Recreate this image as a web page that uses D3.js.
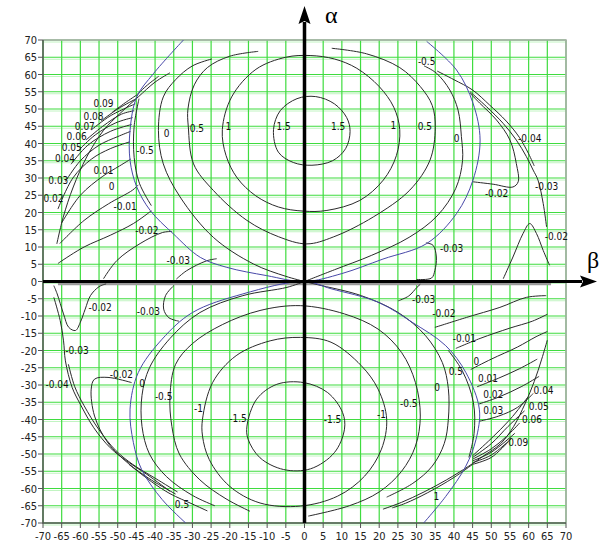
<!DOCTYPE html>
<html lang="en">
<head>
<meta charset="UTF-8">
<title>Contour map alpha / beta</title>
<script src="https://d3js.org/d3.v7.min.js"></script>
<style>
  body { margin: 0; background: white; }
  .tick-label { font-family: "Liberation Sans Narrow", "DejaVu Sans Condensed", "Liberation Sans", sans-serif; font-size: 11px; fill: #222; }
  .lvl { font-family: "Liberation Sans Narrow", "DejaVu Sans Condensed", "Liberation Sans", sans-serif; font-size: 10px; fill: #111; }
  .axis-sym { font-family: "Liberation Serif", "DejaVu Serif", serif; font-size: 24px; fill: #000; }
</style>
</head>
<body>
<svg width="601" height="544"></svg>
<script>
// tick labels (both axes)
const ticks = [-70, -65, -60, -55, -50, -45, -40, -35, -30, -25, -20, -15, -10, -5, 0,
  5, 10, 15, 20, 25, 30, 35, 40, 45, 50, 55, 60, 65, 70];

// contour lines, points are [beta, alpha]
// upper lobe
const top15 = [[-8.3,44],[-6.5,49.5],[-2,53],[3,53.6],[8,51.5],[11.3,47.5],[12.2,43.5],[11,38.5],[7.5,35],[2,33.7],[-3,34.5],[-7,37.5]];
const top1 = [[-22,44],[-19.5,53.5],[-13,61.5],[-5,65],[1.5,65.5],[8,64.5],[14,61.8],[20,56.5],[23.9,50.5],[25.5,44],[24.6,36.5],[21.1,29.4],[14.8,23.5],[6,20.6],[-0.3,20.4],[-7,21.6],[-13,24.8],[-18,30],[-21,36.5]];
const top05 = [[-12.4,66.7],[-20,65.3],[-26,62],[-29.5,57],[-31.2,50],[-31.1,44.8],[-29.7,34.1],[-24.4,26.4],[-15.4,17.7],[-7,13],[0.6,10.9],[7.7,12.9],[18.4,18.7],[28.2,26.5],[33.6,35.2],[35,44.5],[34.2,51],[31,56.5],[25.5,62],[16.6,66],[7.3,67.6]];
const top0Left = [[-24.8,64.5],[-30,62.5],[-34.5,58.5],[-37.8,53.5],[-39.1,43.8],[-37.8,34.1],[-33.3,24.5],[-24.4,12.8],[-13.7,5.1],[-5,1.5],[0,0]];
const top0Right = [[0,0],[8,3.4],[18,7.6],[28,12.8],[35.5,19],[40.5,27],[42.3,35],[42,42],[41.1,49.7],[38.9,55.5],[35.3,60.4],[32,62.5]];
const topHug = [[-44.3,53],[-45.6,45],[-45.6,36],[-44.2,28.5],[-41,22]];
const topLeftEdge = [[-66.3,10.9],[-64.6,18.6],[-61.9,27.4],[-58.3,36.1],[-53.8,43.8],[-49.4,48.7],[-44.5,53.5],[-40,57.8],[-36,60.5]];
const fanTL = [
  [[-34.3,0.7],[-31.6,3.1],[-26.2,6],[-23.5,6.6]],
  [[-53.8,0.8],[-50.2,6.1],[-44,11],[-38,14.2],[-35.5,14.5]],
  [[-66,5.2],[-65.5,5.6],[-59,10],[-52,13.4],[-45.8,16.8],[-41,20.5]],
  [[-65.5,11],[-59,17.7],[-52.5,22.5],[-46,26.5],[-44.5,28]],
  [[-65,17],[-60,25],[-54,30.5],[-49.5,33.5],[-46.5,35.5]],
  [[-66,21],[-62,30],[-57,35.5],[-52,38.5],[-46.7,40.5]],
  [[-64,29],[-60,35],[-55,39.5],[-50,42],[-46.6,43.5]],
  [[-62.5,34],[-58,39.5],[-52,43.5],[-46.3,45.5]],
  [[-60.5,38],[-56,42.5],[-50.5,46],[-46,47.5]],
  [[-58.5,41],[-54,45],[-49,48.5],[-45.6,49.5]],
  [[-57,44],[-52,48],[-45.3,51.5]],
  [[-54.5,46.5],[-50,50],[-45,53]],
  [[-51.5,49],[-48,51.8],[-45,54]]
];
const trLoop02 = [[45.1,28.9],[50.5,28.2],[55.8,27.4],[57.2,28.9],[56.7,34.2],[55,41],[51.4,46.8],[46.9,51.7],[44.3,54.6]];
const trLine03 = [[44.3,55],[48.7,50.7],[53.2,45.8],[56.7,41],[59.4,36.2],[61.2,32.3],[62.5,29.4],[63.9,22.6],[64.8,15.8]];
const trLine04 = [[35.5,61],[40,58.5],[45,55.5],[49.5,51.2],[54,46.5],[57.5,41.8],[60,37],[61.5,33.5]];
const trPeak02 = [[53.2,0.8],[55.8,7.1],[58.5,13.9],[60.3,16.8],[62.1,13.9],[63.9,9],[65.6,4.7]];
const trHook03 = [[32.5,11.2],[34.4,10.5],[35.3,7.1],[34.9,3.2],[34,1],[30,0.6]];

// lower lobe
const bot15 = [[-15.4,-41.9],[-12.8,-34.1],[-7.4,-29.8],[-0.2,-29.3],[6.2,-32.2],[10.2,-38],[10.7,-42.8],[8,-49.6],[1.6,-54.3],[-5.6,-54.5],[-11.9,-51.1],[-15.1,-45.7]];
const bot1 = [[-27.3,-39.9],[-24.6,-29.3],[-18.3,-21.5],[-9.2,-17.2],[-1.1,-16.2],[7.1,-17.6],[15.2,-24.4],[19.7,-31.2],[22,-39.9],[20.6,-48.6],[16.1,-56.4],[8.9,-62.2],[-1.1,-65.1],[-11.9,-64.2],[-20.1,-59.3],[-25.5,-51.6],[-27.3,-44.8]];
const bot05 = [[-14.6,-66.6],[-21,-63],[-28,-57.5],[-33.5,-50],[-35.5,-42],[-36,-33],[-34.5,-24],[-30,-18],[-22,-12.5],[-11.9,-8.4],[-1.1,-7],[10.7,-9.4],[19.7,-13.8],[26,-20.6],[29.7,-29.3],[31,-39],[29.7,-47.7],[26,-55],[20,-61],[12,-65],[1,-68]];
const bot0Left = [[0,0],[-4.7,-1.7],[-16.5,-4.1],[-28,-9],[-36,-16.5],[-41.5,-25],[-43.5,-33],[-43.5,-42],[-41.5,-50],[-37,-56.5],[-30,-62],[-24,-65]];
const bot0Right = [[0,0],[3.4,-0.9],[15.2,-4.1],[25.1,-9],[32.4,-15.7],[36.9,-23.5],[38.5,-31],[38.5,-40],[37.4,-47],[34.2,-53.5],[29,-58.5],[22,-62.5]];
const botHug = [[38.5,-20],[42.3,-26],[45.2,-35],[45.4,-44],[44,-51]];
const botRightEdge = [[65,-17],[63.5,-22.5],[61.5,-29],[59,-35.5],[56,-42],[52.5,-47],[48,-50.5],[44,-53.5],[38,-57.5],[32,-61],[26,-64],[21,-66]];
const botRightExtra = [[45,-53],[40,-56.8],[33,-61.2],[27,-64.3],[23.5,-65.6]];
const fanBR = [
  [[25.1,-5.6],[27.9,-4.2],[30.1,-1.7],[31,-0.8]],
  [[34.9,-13.3],[43.4,-10.4],[52.3,-7.5],[59.4,-4.6],[64.7,-4.1]],
  [[40.5,-19.4],[47,-16.5],[55,-13.5],[61,-11.5],[65,-9.5]],
  [[44.5,-25.5],[50,-22.5],[57,-19],[62,-16],[65,-14.5]],
  [[46.2,-30.5],[52,-28],[57.5,-25.3],[62.3,-22.5]],
  [[46.7,-35.5],[52,-33.5],[58,-30.5],[62.8,-27.5]],
  [[46.8,-40.5],[52,-39],[57,-36.5],[61.2,-32.5]],
  [[45,-50.5],[50,-45.5],[55,-40],[59.8,-33.5]],
  [[45,-51],[50,-47],[54.5,-42],[58.9,-37.5]],
  [[45,-51.5],[50,-48.5],[54,-45],[57.6,-41]],
  [[45,-52],[50,-49.5],[56.3,-44]],
  [[45,-52.5],[50,-50.3],[55.4,-45.5]],
  [[45,-53],[50,-51],[54.5,-46.5]]
];
const blLine03 = [[-67.1,-4.6],[-65.4,-11.3],[-64.5,-17.2],[-64,-23],[-62.2,-30.7],[-60,-35.6],[-56.4,-42.4],[-52,-48.2],[-47.5,-52.1],[-42.2,-55.9],[-36,-60.8]];
const blLine04 = [[-63.2,-24],[-61.5,-30.5],[-59,-36],[-55,-43],[-50.5,-49],[-46,-53],[-40,-57],[-34,-61]];
const blLoop02 = [[-46.3,-29.3],[-52.6,-27.8],[-56.2,-28.3],[-57.1,-31.2],[-56.2,-39],[-52.6,-46.8],[-47.2,-52.7],[-40.9,-57.6],[-34.5,-61.6]];
const blDip02 = [[-53.1,-0.7],[-55,-1.5],[-57.3,-4.1],[-58.7,-8],[-60,-11.8],[-61.3,-14.2],[-63.1,-13.3],[-64.5,-9.4],[-66.2,-3.6],[-67.1,-1.2]];
const blHook03 = [[-33.6,-11.5],[-36.3,-10.5],[-37.7,-8],[-37.2,-4.1],[-35,-1.2]];
const blLine05 = [[-47,-53],[-41,-58],[-36,-61.5],[-30,-64.5],[-26,-66.5]];
const tlExtra = [[-45,54],[-42,57],[-39,59.5]];

// blue boundary curves
const blueTop = [[-32.4,70],[-40.4,60.3],[-44.9,53.5],[-46.7,43.8],[-46.7,35.1],[-44.9,27.4],[-41.3,20.6],[-35.1,13.8],[-27.9,7],[-20.8,4.1],[-10.1,1.7],[0,0],[10,2.3],[21,6.5],[32.7,11],[40.7,19.7],[45.1,29.4],[47,41],[45.1,51.7],[40.7,61.3],[32.7,69.6]];
const blueBottom = [[-31.8,-70],[-38.1,-63.2],[-43.6,-54.5],[-45.8,-46.7],[-46.7,-37],[-44.5,-26.4],[-38.1,-16.7],[-30,-9],[-16.5,-3.6],[0,0],[7.1,-2.1],[19.7,-6],[28.8,-11.8],[37.8,-18.6],[43.2,-26.4],[46.8,-37],[45.9,-45.8],[43.2,-53.5],[37.8,-62.3],[31.9,-70]];

// contour level labels: [text, beta, alpha]
const levelLabels = [
  ["1.5",-5.6,44.8],["1",-20.4,44.8],["0.5",-28.8,44.3],["0",-36.9,42.9],["-0.5",-42.7,38],
  ["1.5",9,44.9],["1",23.8,45.3],["0.5",32.2,44.9],["0",40.7,41.5],["-0.5",32.7,63.8],
  ["-0.04",60.3,41.5],["-0.03",64.8,27.4],["-0.02",51.4,25.5],["-0.02",67.4,12.9],["-0.03",39.4,9.5],
  ["0.09",-53.8,51.6],["0.08",-56.5,47.7],["0.07",-58.8,44.8],["0.06",-61,41.9],["0.05",-62.3,38.8],
  ["0.04",-64.1,35.6],["0.03",-65.9,29.3],["0.02",-67.2,24],["0.01",-53.8,32.2],["0",-51.6,27.4],
  ["-0.01",-48,21.6],["-0.02",-42.2,14.8],["-0.03",-33.8,6.2],
  ["-1.5",-17.8,-39.6],["-1",-28.4,-36.8],["-0.5",-37.7,-33.2],["0",-43.5,-29.5],["-0.02",-49,-27],
  ["-1.5",7.5,-39.9],["-1",20.6,-38.5],["-0.5",27.9,-35.5],["0",35.5,-30.6],["0.5",40.5,-26.1],
  ["-0.02",-54.7,-7.5],["-0.03",-41.8,-8.6],["-0.03",-60.9,-20],["-0.04",-66.2,-29.8],["0.5",-32.8,-64.6],
  ["-0.03",31.9,-5.1],["-0.02",37.3,-9.2],["-0.01",42.8,-16.4],["0",46,-23.3],["0.01",49.1,-28.2],
  ["0.02",50.5,-32.7],["0.03",50.5,-37.5],["0.04",64,-31.7],["0.05",62.7,-36.3],["0.06",60.9,-40.1],
  ["0.09",57.2,-46.7],["1",35.3,-62.2]
];

const svg = d3.select("svg");
const x = d3.scaleLinear().domain([-70, 70]).range([43, 566]);
const y = d3.scaleLinear().domain([-70, 70]).range([523, 40]);

svg.append("defs").append("clipPath").attr("id", "plot")
  .append("rect").attr("x", x(-70)).attr("y", y(70))
  .attr("width", x(70) - x(-70)).attr("height", y(-70) - y(70));

// green grid
const grid = svg.append("g");
grid.selectAll(".hp").data(ticks).join("line")
  .attr("x1", x(-70)).attr("x2", x(70))
  .attr("y1", d => y(d) + 2).attr("y2", d => y(d) + 2)
  .attr("stroke", "#c2f4c2").attr("stroke-width", 1);
grid.selectAll(".h").data(ticks).join("line")
  .attr("x1", x(-70)).attr("x2", x(70))
  .attr("y1", d => y(d)).attr("y2", d => y(d))
  .attr("stroke", "#3fdc3f").attr("stroke-width", 1.2);
grid.selectAll(".v").data(ticks).join("line")
  .attr("y1", y(-70)).attr("y2", y(70))
  .attr("x1", d => x(d)).attr("x2", d => x(d))
  .attr("stroke", "#3fdc3f").attr("stroke-width", 1.2);

// frame
svg.append("path")
  .attr("d", `M${x(-70)},${y(70)}H${x(70)}V${y(-70)}`)
  .attr("fill", "none").attr("stroke", "#aaa").attr("stroke-width", 1.5);
svg.append("path")
  .attr("d", `M${x(-70)},${y(70)}V${y(-70)}H${x(70)}`)
  .attr("fill", "none").attr("stroke", "#555").attr("stroke-width", 1.5);

// tick marks and labels
svg.append("g").selectAll("line").data(ticks).join("line")
  .attr("x1", x(-70) - 5).attr("x2", x(-70))
  .attr("y1", d => y(d)).attr("y2", d => y(d))
  .attr("stroke", "#555");
svg.append("g").selectAll("line").data(ticks).join("line")
  .attr("y1", y(-70)).attr("y2", y(-70) + 5)
  .attr("x1", d => x(d)).attr("x2", d => x(d))
  .attr("stroke", "#555");
svg.append("g").selectAll("text").data(ticks).join("text")
  .attr("class", "tick-label")
  .attr("x", x(-70) - 6).attr("y", d => y(d) + 4)
  .attr("text-anchor", "end")
  .text(d => d);
svg.append("g").selectAll("text").data(ticks).join("text")
  .attr("class", "tick-label")
  .attr("x", d => x(d)).attr("y", y(-70) + 17)
  .attr("text-anchor", "middle")
  .text(d => d);

// contour lines
const lines = [
  { pts: top15, closed: true }, { pts: top1, closed: true }, { pts: top05 },
  { pts: top0Left }, { pts: top0Right }, { pts: topHug }, { pts: topLeftEdge }, { pts: tlExtra },
  { pts: trLoop02 }, { pts: trLine03 }, { pts: trLine04 }, { pts: trPeak02 }, { pts: trHook03 },
  { pts: bot15, closed: true }, { pts: bot1, closed: true }, { pts: bot05 },
  { pts: bot0Left }, { pts: bot0Right }, { pts: botHug }, { pts: botRightEdge }, { pts: botRightExtra },
  { pts: blLine03 }, { pts: blLine04 }, { pts: blLoop02 }, { pts: blDip02 }, { pts: blHook03 }, { pts: blLine05 }
].concat(fanTL.map(p => ({ pts: p })), fanBR.map(p => ({ pts: p })));

const lineGen = d3.line().x(d => x(d[0])).y(d => y(d[1]));
const plot = svg.append("g").attr("clip-path", "url(#plot)");

// faint grey trace along the beta axis
plot.append("line")
  .attr("x1", x(-66)).attr("x2", x(66))
  .attr("y1", y(0) + 2.5).attr("y2", y(0) + 2.5)
  .attr("stroke", "#9a9a9a").attr("stroke-width", 2.5);

plot.selectAll(".contour").data(lines).join("path")
  .attr("fill", "none")
  .attr("stroke", "#2a2a2a").attr("stroke-width", 1)
  .attr("d", d => lineGen.curve(d.closed ? d3.curveCatmullRomClosed : d3.curveCatmullRom)(d.pts));

plot.selectAll(".blue").data([blueTop, blueBottom]).join("path")
  .attr("fill", "none")
  .attr("stroke", "#4848a8").attr("stroke-width", 1)
  .attr("d", d => lineGen.curve(d3.curveCatmullRom)(d));

svg.append("g").selectAll("text").data(levelLabels).join("text")
  .attr("class", "lvl")
  .attr("x", d => x(d[1])).attr("y", d => y(d[2]) + 3.5)
  .attr("text-anchor", "middle")
  .text(d => d[0]);

// big arrows through the origin
svg.append("line")
  .attr("x1", x(-70)).attr("x2", 582)
  .attr("y1", y(0)).attr("y2", y(0))
  .attr("stroke", "#000").attr("stroke-width", 3);
svg.append("path")
  .attr("d", `M597,${y(0)}L580,${y(0) - 6}L583,${y(0)}L580,${y(0) + 6}Z`)
  .attr("fill", "#000");
svg.append("line")
  .attr("x1", x(0)).attr("x2", x(0))
  .attr("y1", y(-70)).attr("y2", 22)
  .attr("stroke", "#000").attr("stroke-width", 3.5);
svg.append("path")
  .attr("d", `M${x(0)},6L${x(0) - 6},24L${x(0)},21L${x(0) + 6},24Z`)
  .attr("fill", "#000");

svg.append("text").attr("class", "axis-sym")
  .attr("x", 325).attr("y", 23).text("α");
svg.append("text").attr("class", "axis-sym")
  .attr("x", 587).attr("y", 268).text("β");
</script>
</body>
</html>
